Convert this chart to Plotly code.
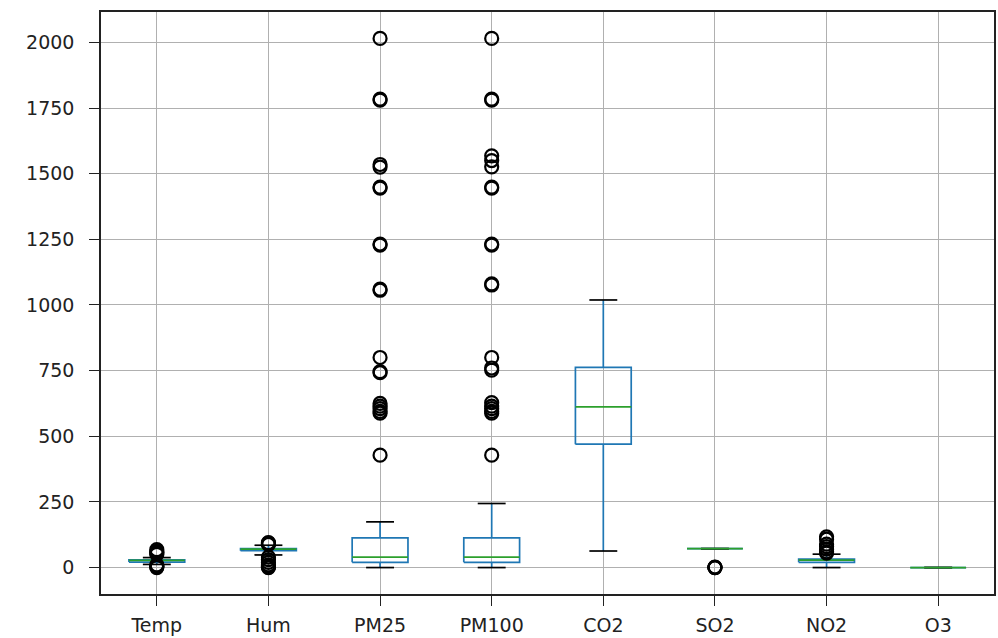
import plotly.graph_objects as go

categories = ["Temp", "Hum", "PM25", "PM100", "CO2", "SO2", "NO2", "O3"]
q1 = [21, 64, 20, 20, 470, 72, 20, 0]
median = [27, 70, 40, 40, 612, 72, 28, 0]
q3 = [29, 72, 113, 113, 762, 72, 32, 0]
whisker_low = [12, 48, 0, 0, 63, 72, 0, 0]
whisker_high = [38, 85, 174, 244, 1019, 72, 51, 0]
outliers = {
    "Temp": [68, 62, 58, 55, 50, 10, 5, 3, 0],
    "Hum": [95, 93, 90, 88, 40, 30, 20, 10, 5, 2, 0],
    "PM25": [2015, 1784, 1780, 1535, 1525, 1449, 1445, 1232, 1228, 1060, 1056,
             800, 746, 742, 625, 615, 605, 595, 588, 428],
    "PM100": [2015, 1784, 1780, 1568, 1550, 1526, 1449, 1445, 1232, 1228, 1080, 1076,
              800, 760, 752, 628, 615, 605, 595, 588, 428],
    "CO2": [],
    "SO2": [0, 1, 2, 0],
    "NO2": [117, 108, 89, 80, 70, 60, 55],
    "O3": [],
}
y_ticks = [0, 250, 500, 750, 1000, 1250, 1500, 1750, 2000]

pos = list(range(1, len(categories) + 1))
half_box = 0.25
half_cap = 0.125

bx, by = [], []
wx, wy = [], []
cx, cy = [], []
mx, my = [], []
for p, a, m, b, lo, hi in zip(pos, q1, median, q3, whisker_low, whisker_high):
    bx += [p - half_box, p + half_box, p + half_box, p - half_box, p - half_box, None]
    by += [a, a, b, b, a, None]
    wx += [p, p, None, p, p, None]
    wy += [a, lo, None, b, hi, None]
    cx += [p - half_cap, p + half_cap, None, p - half_cap, p + half_cap, None]
    cy += [lo, lo, None, hi, hi, None]
    mx += [p - half_box, p + half_box, None]
    my += [m, m, None]

ox, oy = [], []
for p, c in zip(pos, categories):
    for v in outliers[c]:
        ox.append(p)
        oy.append(v)

blue = "#1f77b4"
fig = go.Figure()
fig.add_trace(go.Scatter(x=bx, y=by, mode="lines", line=dict(color=blue, width=1.7),
                         hoverinfo="skip", showlegend=False))
fig.add_trace(go.Scatter(x=wx, y=wy, mode="lines", line=dict(color=blue, width=1.7),
                         hoverinfo="skip", showlegend=False))
fig.add_trace(go.Scatter(x=cx, y=cy, mode="lines", line=dict(color="black", width=1.7),
                         hoverinfo="skip", showlegend=False))
fig.add_trace(go.Scatter(x=mx, y=my, mode="lines", line=dict(color="#2ca02c", width=1.7),
                         hoverinfo="skip", showlegend=False))
fig.add_trace(go.Scatter(x=ox, y=oy, mode="markers",
                         marker=dict(symbol="circle-open", size=13, color="black",
                                     line=dict(width=2.2, color="black")),
                         showlegend=False))

font = dict(family="DejaVu Sans", size=19, color="#222222")
fig.update_layout(
    width=998, height=638,
    margin=dict(l=101, r=2, t=12, b=44),
    paper_bgcolor="white", plot_bgcolor="white",
    font=font,
    xaxis=dict(range=[0.5, len(categories) + 0.5], tickvals=pos, ticktext=categories,
               showgrid=True, gridcolor="#b0b0b0", gridwidth=1.2, zeroline=False,
               showline=True, mirror=True, linecolor="#222222", linewidth=1.5,
               ticks="outside", ticklen=10, tickwidth=1.3, tickcolor="#222222",
               ticklabelstandoff=3, tickfont=font),
    yaxis=dict(range=[-100.7, 2115.7], tickvals=y_ticks, ticktext=[str(t) for t in y_ticks],
               showgrid=True, gridcolor="#b0b0b0", gridwidth=1.2, zeroline=False,
               showline=True, mirror=True, linecolor="#222222", linewidth=1.5,
               ticks="outside", ticklen=10, tickwidth=1.3, tickcolor="#222222",
               ticklabelstandoff=11, tickfont=font),
)
fig.write_html("out.html", config={"displayModeBar": False},
               post_script="document.body.style.margin='0';document.body.style.overflow='hidden';")
